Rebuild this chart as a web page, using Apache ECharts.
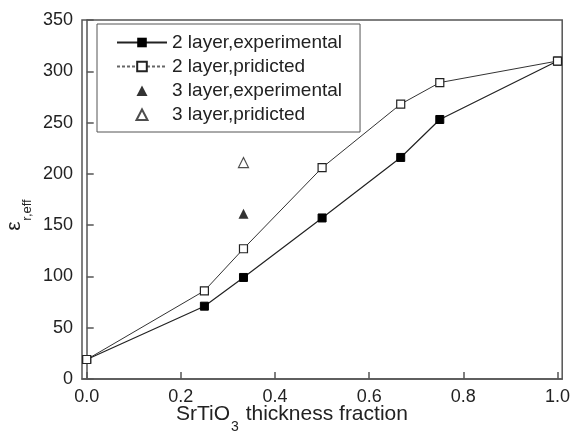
<!DOCTYPE html>
<html>
<head>
<meta charset="utf-8">
<script src="https://cdn.jsdelivr.net/npm/echarts@6/dist/echarts.min.js"></script>
<style>
  html, body { margin: 0; padding: 0; background: #fff; }
  #chart { width: 573px; height: 435px; }
</style>
</head>
<body>
<div id="chart"></div>
<script>
// thickness fraction of SrTiO3
const fraction2 = [0, 0.25, 0.333, 0.5, 0.667, 0.75, 1.0]
const exp2 = [19, 71, 99, 157, 216, 253, 310]
const pred2 = [19, 86, 127, 206, 268, 289, 310]
const fraction3 = [0.333]
const exp3 = [161]
const pred3 = [211]
const xTicks = [0, 0.2, 0.4, 0.6, 0.8, 1.0]

const names = ['2 layer,experimental', '2 layer,pridicted', '3 layer,experimental', '3 layer,pridicted']
const font = 'Liberation Sans, Arial, Helvetica, sans-serif'
const ink = '#222'
const axisInk = '#555'

// legend triangle kept small inside the 50x12 legend box
const triIcon = 'path://M0 0M50 12M19.5 11.5L25 1L30.5 11.5Z'

const zip = (xs, ys) => xs.map((x, i) => [x, ys[i]])

const chart = echarts.init(document.getElementById('chart'))

const option = {
  backgroundColor: '#fff',
  animation: false,
  textStyle: { fontFamily: font },
  grid: {
    left: 82,
    right: 6,
    top: 20,
    bottom: 56,
    show: true,
    borderColor: axisInk,
    borderWidth: 1.5
  },
  legend: {
    orient: 'vertical',
    left: 97,
    top: 24,
    padding: [9, 18, 8, 19],
    itemWidth: 50,
    itemHeight: 12,
    itemGap: 5,
    borderColor: axisInk,
    borderWidth: 1,
    textStyle: { fontSize: 19, color: ink, fontFamily: font },
    data: [
      { name: names[0] },
      { name: names[1], lineStyle: { type: [3, 2], color: '#666' } },
      { name: names[2], icon: triIcon },
      { name: names[3], icon: triIcon }
    ]
  },
  xAxis: {
    type: 'value',
    min: -0.01,
    max: 1.01,
    splitLine: { show: false },
    axisLine: { lineStyle: { color: axisInk, width: 1.5 } },
    axisTick: {
      inside: true,
      length: 7,
      customValues: xTicks,
      lineStyle: { color: axisInk, width: 1.5 }
    },
    axisLabel: {
      customValues: xTicks,
      formatter: v => v.toFixed(1),
      fontSize: 18,
      color: ink,
      margin: 9
    }
  },
  yAxis: {
    type: 'value',
    min: 0,
    max: 350,
    interval: 50,
    splitLine: { show: false },
    axisLine: { show: true, lineStyle: { color: axisInk, width: 1.5 } },
    axisTick: { show: true, inside: true, length: 7, lineStyle: { color: axisInk, width: 1.5 } },
    axisLabel: { fontSize: 18, color: ink, margin: 9 }
  },
  graphic: [
    {
      type: 'text',
      left: 176,
      top: 404,
      style: {
        text: '{a|SrTiO}{s|3}{a| thickness fraction}',
        rich: {
          a: { fontSize: 21, fontFamily: font, fill: ink, verticalAlign: 'top', lineHeight: 22 },
          s: { fontSize: 14, fontFamily: font, fill: ink, verticalAlign: 'top', lineHeight: 14, padding: [16, 1, 0, 1] }
        }
      }
    },
    {
      type: 'text',
      x: 14,
      y: 226,
      rotation: Math.PI / 2,
      style: {
        text: 'ε',
        fontSize: 21,
        fontFamily: font,
        fill: ink,
        align: 'center',
        verticalAlign: 'middle'
      }
    },
    {
      type: 'text',
      x: 27,
      y: 210,
      rotation: Math.PI / 2,
      style: {
        text: 'r,eff',
        fontSize: 13,
        fontFamily: font,
        fill: ink,
        align: 'center',
        verticalAlign: 'middle'
      }
    }
  ],
  series: [
    {
      name: names[0],
      type: 'line',
      data: zip(fraction2, exp2),
      symbol: 'rect',
      symbolSize: 8,
      itemStyle: { color: '#000', borderColor: '#000' },
      lineStyle: { color: ink, width: 1.2 },
      z: 3
    },
    {
      name: names[1],
      type: 'line',
      data: zip(fraction2, pred2),
      symbol: 'rect',
      symbolSize: 8,
      itemStyle: { color: '#fff', borderColor: '#222', borderWidth: 1.2 },
      lineStyle: { color: '#333', width: 1 },
      z: 4
    },
    {
      name: names[2],
      type: 'scatter',
      data: zip(fraction3, exp3),
      symbol: 'triangle',
      symbolSize: 10,
      itemStyle: { color: '#000' }
    },
    {
      name: names[3],
      type: 'scatter',
      data: zip(fraction3, pred3),
      symbol: 'triangle',
      symbolSize: 10,
      itemStyle: { color: '#fff', borderColor: '#222', borderWidth: 1.2 }
    }
  ]
}

chart.setOption(option)
</script>
</body>
</html>
